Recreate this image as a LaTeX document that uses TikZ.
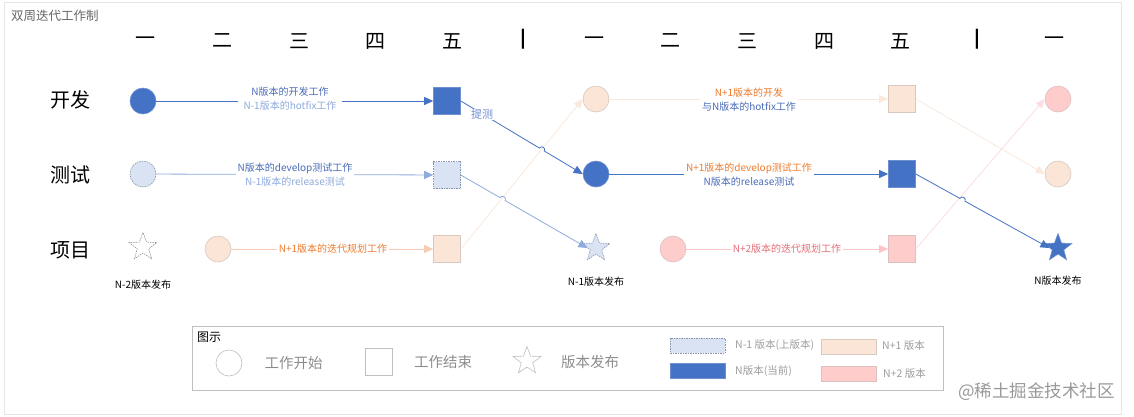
\documentclass[tikz,border=0pt]{standalone}
\usepackage{fontspec}
\setmainfont{Noto Sans CJK SC}
\newfontfamily\barfont{DejaVu Sans}
\usetikzlibrary{shapes.geometric,arrows.meta,calc}
\definecolor{blueN}{HTML}{4472C4}
\definecolor{blueNB}{HTML}{6F8FD0}
\definecolor{blueT}{HTML}{4A6CB8}
\definecolor{blueL}{HTML}{DAE3F3}
\definecolor{blueLine}{HTML}{8FAADC}
\definecolor{dashB}{HTML}{8A96AA}
\definecolor{peachF}{HTML}{FBE5D6}
\definecolor{peachB}{HTML}{D8C8BD}
\definecolor{peachLine}{HTML}{F6CDB2}
\definecolor{peachPale}{HTML}{FAE8DC}
\definecolor{pinkF}{HTML}{FFCCCC}
\definecolor{pinkB}{HTML}{DCC0C0}
\definecolor{pinkLine}{HTML}{FFC4CA}
\definecolor{pinkPale}{HTML}{FCDDE0}
\definecolor{orangeT}{HTML}{ED7D31}
\definecolor{pinkT}{HTML}{E5707A}
\definecolor{frameC}{HTML}{E6E6E6}
\definecolor{legB}{HTML}{BFBFBF}
\definecolor{legT}{HTML}{8C8C8C}
\begin{document}
\begin{tikzpicture}[x=1pt,y=-1pt,
  hdr/.style={font=\fontsize{20}{20}\selectfont, text=black, inner sep=0pt},
  barhdr/.style={font=\barfont\bfseries\fontsize{20}{20}\selectfont, text=black, inner sep=0pt},
  rowlbl/.style={font=\fontsize{20}{20}\selectfont, text=black, inner sep=0pt},
  circ/.style={circle, minimum size=26pt, inner sep=0pt, line width=0.6pt},
  sq/.style={rectangle, minimum size=27pt, inner sep=0pt, line width=0.6pt},
  st/.style={star, star points=5, star point ratio=2.4, minimum size=29pt, inner sep=0pt, line width=0.6pt},
  nfill/.style={fill=blueN, draw=blueNB},
  mfill/.style={fill=blueL, draw=dashB, dash pattern=on 1.5pt off 1pt},
  pfill/.style={fill=peachF, draw=peachB},
  kfill/.style={fill=pinkF, draw=pinkB},
  arr/.style={-{Triangle[length=9pt,width=8pt]}, line width=0.8pt},
  lbl/.style={fill=white, align=center, inner xsep=2pt, inner ysep=0pt, font=\fontsize{10}{14}\selectfont},
  rel/.style={font=\fontsize{10}{10}\selectfont, text=black, inner sep=0pt},
  legtxt/.style={font=\fontsize{14.5}{14.5}\selectfont, text=legT, inner sep=0pt},
  legsm/.style={font=\fontsize{10.5}{10.5}\selectfont, text=legT!85, inner sep=0pt},
  legrect/.style={rectangle, minimum width=55pt, minimum height=15pt, inner sep=0pt, line width=0.6pt}
]
\useasboundingbox (0,0) rectangle (1134,416);
\draw[frameC, line width=0.8pt] (4,2) rectangle (1121,414);
\node[anchor=west, font=\fontsize{12.5}{12.5}\selectfont, text=black!60, inner sep=0pt] (title) at (11,16) {双周迭代工作制};

% day headers
\foreach \x/\t [count=\i] in {145/一,222/二,299/三,375/四,452/五,594/一,670/二,747/三,824/四,900/五,1054/一}
  \node[hdr] (h\i) at (\x,41) {\t};
\node[barhdr] (bar1) at (523,39.5) {|};
\node[barhdr] (bar2) at (977,39.5) {|};

% row labels
\node[rowlbl] (rDev) at (70,100) {开发};
\node[rowlbl] (rTest) at (70,175) {测试};
\node[rowlbl] (rProj) at (70,250) {项目};

% nodes: row dev
\node[circ,nfill] (d1) at (143,101) {};
\node[sq,nfill] (d2) at (447,101) {};
\node[circ,pfill] (d3) at (596,99) {};
\node[sq,pfill] (d4) at (902,99) {};
\node[circ,kfill] (d5) at (1058,99) {};
% row test
\node[circ,mfill] (t1) at (143,174) {};
\node[sq,mfill] (t2) at (447,175) {};
\node[circ,nfill] (t3) at (596,174) {};
\node[sq,nfill] (t4) at (902,174) {};
\node[circ,pfill] (t5) at (1058,174) {};
% row project
\node[st,fill=white,draw=black!45,dash pattern=on 1.5pt off 1pt] (p0) at (143,247) {};
\node[circ,pfill] (p1) at (218,249) {};
\node[sq,pfill] (p2) at (447,249) {};
\node[st,mfill] (p3) at (596,248) {};
\node[circ,kfill] (p4) at (673,249) {};
\node[sq,kfill] (p5) at (902,249) {};
\node[st,nfill] (p6) at (1058,248) {};

\node[rel] (r0) at (143,285) {N-2版本发布};
\node[rel] (r1) at (596,282) {N-1版本发布};
\node[rel] (r2) at (1058,281) {N版本发布};

% pale crossing lines first
\draw[arr, peachPale] (p2.east) -- (d3.west);
\draw[arr, peachPale] (d4.east) -- (t5.west);
\draw[arr, pinkPale] (p5.east) -- (d5.west);

% horizontal edges
\draw[arr, blueN] (d1) -- (d2);
\draw[arr, blueLine] (t1) -- (t2);
\draw[arr, peachLine] (p1) -- (p2);
\draw[arr, peachPale] (d3) -- (d4);
\draw[arr, blueN] (t3) -- (t4);
\draw[arr, pinkLine] (p4) -- (p5);

% diagonal edges with hops
\draw[arr, blueN] (d2.east) -- ($(d2.east)!0.645!(t3.west)$) to[bend left=90, looseness=1.6] ($(d2.east)!0.685!(t3.west)$) -- (t3.west);
\draw[arr, blueLine] (t2.east) -- ($(t2.east)!0.31!(p3.west)$) to[bend left=90, looseness=1.6] ($(t2.east)!0.35!(p3.west)$) -- (p3.west);
\draw[arr, blueN] (t4.east) -- ($(t4.east)!0.33!(p6.west)$) to[bend left=90, looseness=1.6] ($(t4.east)!0.368!(p6.west)$) -- (p6.west);

% edge labels
\node[lbl, inner xsep=6pt] (l1) at (290,99) {{\color{blueT}N版本的开发工作}\\{\color{blueLine}N-1版本的hotfix工作}};
\node[lbl] (l2) at (295,174.5) {{\color{blueT}N版本的develop测试工作}\\{\color{blueLine}N-1版本的release测试}};
\node[lbl, text=orangeT] (l3) at (333,249) {N+1版本的迭代规划工作};
\node[lbl] (l4) at (749,99.5) {{\color{orangeT}N+1版本的开发}\\{\color{blueT}与N版本的hotfix工作}};
\node[lbl] (l5) at (749,174.5) {{\color{orangeT}N+1版本的develop测试工作}\\{\color{blueT}N版本的release测试}};
\node[lbl, text=pinkT] (l6) at (787,249) {N+2版本的迭代规划工作};
\node[fill=white, font=\fontsize{11}{11}\selectfont, text=blueNB, inner sep=0.5pt] (l7) at (482,114.5) {提测};

% legend
\node[draw=legB, line width=0.8pt, rectangle, minimum width=751pt, minimum height=64pt, inner sep=0pt] (leg) at (567.5,358) {};
\node[anchor=west, font=\fontsize{12}{12}\selectfont, text=black, inner sep=0pt] (legT) at (197,337) {图示};
\node[circ, draw=legB, fill=white] (lc) at (229,363) {};
\node[legtxt] (lct) at (293.5,363) {工作开始};
\node[sq, draw=legB, fill=white] (ls) at (378.5,362) {};
\node[legtxt] (lst) at (443,362) {工作结束};
\node[st, draw=legB, fill=white] (lstar) at (527,361) {};
\node[legtxt] (lstt) at (590,362) {版本发布};
\node[legrect, mfill] (lr1) at (697.5,345.5) {};
\node[legsm, anchor=west] (lr1t) at (735,345.5) {N-1 版本(上版本)};
\node[legrect, pfill] (lr2) at (848.5,346.5) {};
\node[legsm, anchor=west] (lr2t) at (882,345.5) {N+1 版本};
\node[legrect, nfill] (lr3) at (697.5,371) {};
\node[legsm, anchor=west] (lr3t) at (735,371) {N版本(当前)};
\node[legrect, kfill] (lr4) at (848.5,374) {};
\node[legsm, anchor=west] (lr4t) at (883,374) {N+2 版本};

\node[anchor=west, font=\fontsize{17.5}{17.5}\selectfont, text=black!40, inner sep=0pt] (wm) at (958,392) {@稀土掘金技术社区};
\end{tikzpicture}
\end{document}
